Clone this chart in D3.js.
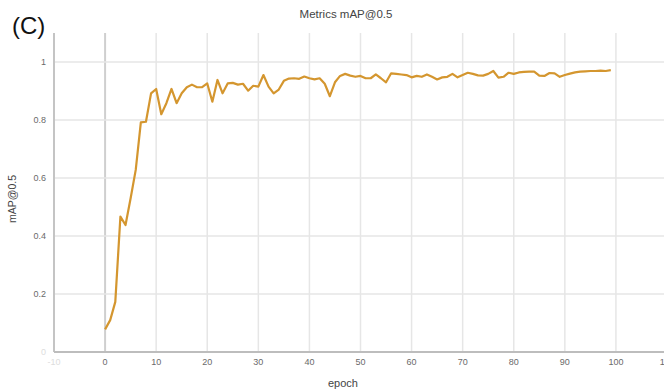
<!DOCTYPE html>
<html>
<head>
<meta charset="utf-8">
<script src="https://cdn.jsdelivr.net/npm/d3@7"></script>
<style>
  body { margin: 0; background: #fff; }
  svg { display: block; font-family: "Liberation Sans", Arial, sans-serif; }
</style>
</head>
<body>
<svg id="svg" width="664" height="390"></svg>
<script>
// mAP@0.5 per epoch
var epochs = d3.range(0, 100);
var mapValues = [
  0.078, 0.110, 0.173, 0.467, 0.438, 0.530, 0.628, 0.792, 0.794, 0.892,
  0.907, 0.820, 0.858, 0.907, 0.858, 0.892, 0.913, 0.922, 0.913, 0.913,
  0.926, 0.863, 0.938, 0.892, 0.926, 0.928, 0.922, 0.925, 0.901, 0.918,
  0.915, 0.955, 0.915, 0.892, 0.905, 0.935, 0.943, 0.944, 0.942, 0.950,
  0.944, 0.940, 0.944, 0.925, 0.882, 0.930, 0.952, 0.959, 0.953, 0.949,
  0.952, 0.944, 0.944, 0.957, 0.944, 0.930, 0.961, 0.959, 0.957, 0.955,
  0.947, 0.952, 0.949, 0.957, 0.949, 0.940, 0.947, 0.949, 0.959, 0.947,
  0.955, 0.963, 0.959, 0.954, 0.953, 0.959, 0.969, 0.946, 0.949, 0.963,
  0.959, 0.964, 0.966, 0.967, 0.967, 0.953, 0.952, 0.962, 0.961, 0.949,
  0.955, 0.960, 0.964, 0.967, 0.968, 0.969, 0.969, 0.970, 0.969, 0.972
];
var xTicks = d3.range(-10, 111, 10);
var yTicks = [0, 0.2, 0.4, 0.6, 0.8, 1];

var svg = d3.select('#svg');
var plotLeft = 54, plotTop = 33, plotBottom = 352;

var x = d3.scaleLinear().domain([-10, 110]).range([plotLeft, plotLeft + 613]);
var y = d3.scaleLinear().domain([0, 1.1]).range([plotBottom, plotTop]);

// grid
var g = svg.append('g');
g.selectAll('.vgrid')
  .data(xTicks)
  .enter().append('line')
  .attr('x1', d => x(d)).attr('x2', d => x(d))
  .attr('y1', plotTop).attr('y2', plotBottom)
  .style('stroke', d => d === 0 ? '#cfcfcf' : '#e6e6e6')
  .style('stroke-width', d => d === 0 ? 2 : 1.5);

g.selectAll('.hgrid')
  .data(yTicks.filter(d => d > 0))
  .enter().append('line')
  .attr('x1', plotLeft).attr('x2', 664)
  .attr('y1', d => y(d)).attr('y2', d => y(d))
  .style('stroke', '#e6e6e6')
  .style('stroke-width', 1.5);

// axis lines
svg.append('line')
  .attr('x1', plotLeft).attr('x2', plotLeft).attr('y1', plotTop).attr('y2', plotBottom)
  .style('stroke', '#c4c4c4').style('stroke-width', 2);
svg.append('line')
  .attr('x1', plotLeft).attr('x2', 664).attr('y1', plotBottom).attr('y2', plotBottom)
  .style('stroke', '#bdbdbd').style('stroke-width', 2);

// tick labels
svg.selectAll('.xlab')
  .data(xTicks)
  .enter().append('text')
  .attr('x', d => x(d))
  .attr('y', 365)
  .attr('text-anchor', 'middle')
  .style('font-size', '9px')
  .style('fill', d => d < 0 ? '#dddddd' : '#6a6a6a')
  .text(d => d);

svg.selectAll('.ylab')
  .data(yTicks)
  .enter().append('text')
  .attr('x', 46)
  .attr('y', d => y(d) + 3)
  .attr('text-anchor', 'end')
  .style('font-size', '9px')
  .style('fill', d => d === 0 ? '#dddddd' : '#6a6a6a')
  .text(d => d);

// line
var line = d3.line()
  .x((d, i) => x(epochs[i]))
  .y(d => y(d));

svg.append('path')
  .datum(mapValues)
  .attr('d', line)
  .style('fill', 'none')
  .style('stroke', '#d4962f')
  .style('stroke-width', 2.2)
  .style('stroke-linejoin', 'round');

// titles
svg.append('text')
  .attr('x', 346).attr('y', 18)
  .attr('text-anchor', 'middle')
  .style('font-size', '11.5px')
  .style('fill', '#444')
  .text('Metrics mAP@0.5');

svg.append('text')
  .attr('x', 12).attr('y', 34)
  .style('font-size', '24px')
  .style('fill', '#111')
  .text('(C)');

svg.append('text')
  .attr('transform', 'translate(16,199) rotate(-90)')
  .attr('text-anchor', 'middle')
  .style('font-size', '10.5px')
  .style('fill', '#444')
  .text('mAP@0.5');

svg.append('text')
  .attr('x', 343).attr('y', 387)
  .attr('text-anchor', 'middle')
  .style('font-size', '11px')
  .style('fill', '#444')
  .text('epoch');
</script>
</body>
</html>
